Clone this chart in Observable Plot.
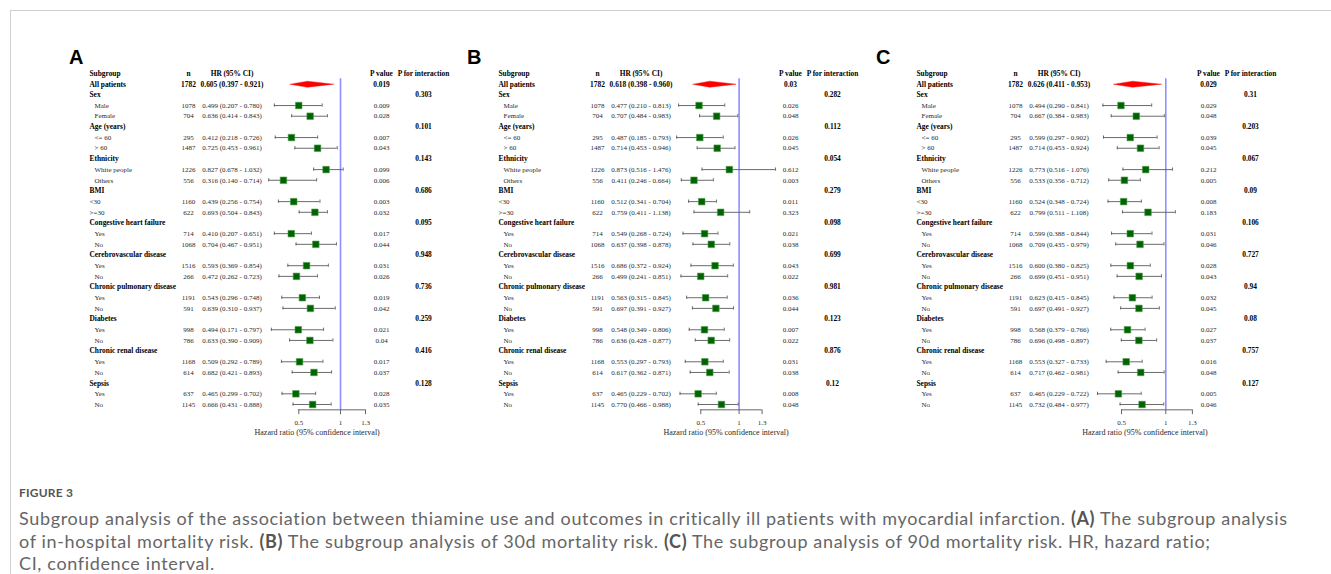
<!DOCTYPE html>
<html>
<head>
<meta charset="utf-8">
<script src="https://cdn.jsdelivr.net/npm/d3@7"></script>
<script src="https://cdn.jsdelivr.net/npm/@observablehq/plot@0.6"></script>
<style>
  html, body { margin: 0; padding: 0; background: #fff; }
  body { width: 1331px; height: 574px; position: relative; overflow: hidden; }
  #frame { position: absolute; left: 10px; top: 10px; width: 1340px; height: 600px;
           border-top: 1px solid #d0d0d0; border-left: 1px solid #d0d0d0; }
  .plabel { position: absolute; font-family: "Liberation Sans", Arial, sans-serif; font-weight: bold;
            font-size: 20px; line-height: 20px; color: #000; }
  #fig { position: absolute; left: 19px; top: 486px; font-family: "Lato", sans-serif; font-size: 12px;
         line-height: 14px; font-weight: 700; letter-spacing: 0.2px; color: #555; }
  #cap { position: absolute; left: 19px; top: 507px; font-family: "Lato", sans-serif; color: #666;
         font-weight: 400; font-size: 18px; line-height: 22.5px; white-space: nowrap; }
  #cap span.l { display: block; height: 22.5px; }
  #cap b { color: #555; font-weight: 700; }
</style>
</head>
<body>
<div id="frame"></div>
<div id="fig">FIGURE 3</div>
<div id="cap">
  <span class="l" id="cap1">Subgroup analysis of the association between thiamine use and outcomes in critically ill patients with myocardial infarction. <b>(A)</b> The subgroup analysis</span>
  <span class="l">of in-hospital mortality risk. <b>(B)</b> The subgroup analysis of 30d mortality risk. <b>(C)</b> The subgroup analysis of 90d mortality risk. HR, hazard ratio;</span>
  <span class="l">CI, confidence interval.</span>
</div>
<script>
// ---------------- DATA ----------------
const groupNames = ["Sex", "Age (years)", "Ethnicity", "BMI", "Congestive heart failure",
  "Cerebrovascular disease", "Chronic pulmonary disease", "Diabetes", "Chronic renal disease", "Sepsis"];
const levelNames = ["Male", "Female", "<= 60", "> 60", "White people", "Others", "<30", ">=30",
  "Yes", "No", "Yes", "No", "Yes", "No", "Yes", "No", "Yes", "No", "Yes", "No"];
const levelN = [1078, 704, 295, 1487, 1226, 556, 1160, 622, 714, 1068, 1516, 266, 1191, 591, 998, 786, 1168, 614, 637, 1145];
const totalN = 1782;
const unindentedGroups = ["BMI"];
const headers = ["Subgroup", "n", "HR (95% CI)", "P value", "P for interaction"];
const xTicks = [0.5, 1, 1.3];
const axisTitle = "Hazard ratio (95% confidence interval)";
const panelLetters = ["A", "B", "C"];

// Panel A: in-hospital mortality (first entry = All patients)
const hrA = [0.605, 0.499, 0.636, 0.412, 0.725, 0.827, 0.316, 0.439, 0.693, 0.410, 0.704, 0.593, 0.472, 0.543, 0.639, 0.494, 0.633, 0.509, 0.682, 0.465, 0.666];
const loA = [0.397, 0.207, 0.414, 0.218, 0.453, 0.678, 0.140, 0.256, 0.504, 0.207, 0.467, 0.369, 0.262, 0.296, 0.310, 0.171, 0.390, 0.292, 0.421, 0.299, 0.431];
const hiA = [0.921, 0.780, 0.843, 0.726, 0.961, 1.032, 0.714, 0.754, 0.843, 0.651, 0.951, 0.854, 0.723, 0.748, 0.937, 0.797, 0.909, 0.789, 0.893, 0.702, 0.888];
const pA = [0.019, 0.009, 0.028, 0.007, 0.043, 0.099, 0.006, 0.003, 0.032, 0.017, 0.044, 0.031, 0.026, 0.019, 0.042, 0.021, 0.04, 0.017, 0.037, 0.028, 0.035];
const pIntA = [0.303, 0.101, 0.143, 0.686, 0.095, 0.948, 0.736, 0.259, 0.416, 0.128];

// Panel B: 30d mortality
const hrB = [0.618, 0.477, 0.707, 0.487, 0.714, 0.873, 0.411, 0.512, 0.759, 0.549, 0.637, 0.686, 0.499, 0.563, 0.697, 0.548, 0.636, 0.553, 0.617, 0.465, 0.770];
const loB = [0.398, 0.210, 0.484, 0.185, 0.453, 0.516, 0.246, 0.341, 0.411, 0.268, 0.398, 0.372, 0.241, 0.315, 0.391, 0.349, 0.428, 0.297, 0.362, 0.229, 0.466];
const hiB = [0.960, 0.813, 0.983, 0.793, 0.946, 1.476, 0.664, 0.704, 1.138, 0.724, 0.878, 0.924, 0.851, 0.845, 0.927, 0.806, 0.877, 0.793, 0.871, 0.702, 0.988];
const pB = [0.03, 0.026, 0.048, 0.026, 0.045, 0.612, 0.003, 0.011, 0.323, 0.021, 0.038, 0.043, 0.022, 0.036, 0.044, 0.007, 0.022, 0.031, 0.038, 0.008, 0.048];
const pIntB = [0.282, 0.112, 0.054, 0.279, 0.098, 0.699, 0.981, 0.123, 0.876, 0.12];

// Panel C: 90d mortality
const hrC = [0.626, 0.494, 0.667, 0.599, 0.714, 0.773, 0.533, 0.524, 0.799, 0.599, 0.709, 0.600, 0.699, 0.623, 0.697, 0.568, 0.696, 0.553, 0.717, 0.465, 0.732];
const loC = [0.411, 0.290, 0.384, 0.297, 0.453, 0.516, 0.356, 0.348, 0.511, 0.388, 0.435, 0.380, 0.451, 0.415, 0.491, 0.379, 0.498, 0.327, 0.462, 0.229, 0.484];
const hiC = [0.953, 0.841, 0.983, 0.902, 0.924, 1.076, 0.712, 0.724, 1.108, 0.844, 0.979, 0.825, 0.951, 0.845, 0.927, 0.766, 0.897, 0.733, 0.981, 0.722, 0.977];
const pC = [0.029, 0.029, 0.048, 0.039, 0.045, 0.212, 0.005, 0.008, 0.183, 0.031, 0.046, 0.028, 0.043, 0.032, 0.045, 0.027, 0.037, 0.016, 0.048, 0.005, 0.046];
const pIntC = [0.31, 0.203, 0.067, 0.09, 0.106, 0.727, 0.94, 0.08, 0.757, 0.127];

// ---------------- LAYOUT (styles, not data) ----------------
const panelLayout = [
  {left: 60,  letterLeft: 69,  xRange: [238.3, 280.0]},
  {left: 469, letterLeft: 467, xRange: [231.3, 269.6]},
  {left: 887, letterLeft: 876, xRange: [234.0, 278.3]}
];
const col = {label: 29, indent: 34, n: 128, hr: 171.5, p: 321, pint: 363};
const FONT = "Liberation Serif";
const regSize = 7, boldSize = 7.4;
const regColor = "#2a2a2a";

function buildRows(hr, lo, hi, p, pInt) {
  const rows = [];
  rows.push({i: 0, label: "All patients", kind: "all", n: totalN, hr: hr[0], lo: lo[0], hi: hi[0], p: p[0]});
  let i = 1;
  groupNames.forEach((g, gi) => {
    rows.push({i: i++, label: g, kind: "group", pint: pInt[gi]});
    for (let k = 0; k < 2; k++) {
      const idx = gi * 2 + k;
      rows.push({i: i++, label: levelNames[idx], kind: "level", indent: !unindentedGroups.includes(g),
        n: levelN[idx], hr: hr[idx + 1], lo: lo[idx + 1], hi: hi[idx + 1], p: p[idx + 1]});
    }
  });
  return rows;
}
const fmtHR = d => `${d.hr.toFixed(3)} (${d.lo.toFixed(3)} - ${d.hi.toFixed(3)})`;

const datasets = [
  buildRows(hrA, loA, hiA, pA, pIntA),
  buildRows(hrB, loB, hiB, pB, pIntB),
  buildRows(hrC, loC, hiC, pC, pIntC)
];

datasets.forEach((rows, pi) => {
  const L = panelLayout[pi];
  const lastRow = rows.length - 1;
  const axisRow = lastRow + 0.5;
  const allRow = rows.filter(r => r.kind === "all");
  const levels = rows.filter(r => r.kind === "level");
  const groups = rows.filter(r => r.kind === "group");
  const xmin = d3.min(rows, r => r.lo);
  const xmax = Math.max(d3.max(rows, r => r.hi), d3.max(xTicks));
  const a = allRow[0];
  const diamond = [
    {x: a.lo, y: a.i}, {x: a.hr, y: a.i - 0.28}, {x: a.hi, y: a.i}, {x: a.hr, y: a.i + 0.28}
  ];
  const txt = (data, opts) => Plot.text(data, {frameAnchor: "left", y: "i", fontFamily: FONT,
    fontSize: regSize, fill: regColor, ...opts});
  const bold = {fontWeight: "bold", fontSize: boldSize, fill: "#000"};
  const headerCols = [
    {dx: col.label, anchor: "start"}, {dx: col.n, anchor: "middle"}, {dx: col.hr, anchor: "middle"},
    {dx: col.p, anchor: "middle"}, {dx: col.pint, anchor: "middle"}
  ];
  const marks = [];
  headers.forEach((h, hi) => {
    marks.push(Plot.text([h], {frameAnchor: "left", y: -1, text: d => d, dx: headerCols[hi].dx,
      textAnchor: headerCols[hi].anchor, fontFamily: FONT, ...bold}));
  });
  // labels
  marks.push(txt(rows.filter(r => r.kind !== "level"), {text: "label", dx: col.label, textAnchor: "start", ...bold}));
  marks.push(txt(levels.filter(r => r.indent), {text: "label", dx: col.indent, textAnchor: "start"}));
  marks.push(txt(levels.filter(r => !r.indent), {text: "label", dx: col.label, textAnchor: "start"}));
  // n
  marks.push(txt(allRow, {text: d => String(d.n), dx: col.n, textAnchor: "middle", ...bold}));
  marks.push(txt(levels, {text: d => String(d.n), dx: col.n, textAnchor: "middle"}));
  // HR (95% CI)
  marks.push(txt(allRow, {text: fmtHR, dx: col.hr, textAnchor: "middle", ...bold}));
  marks.push(txt(levels, {text: fmtHR, dx: col.hr, textAnchor: "middle"}));
  // P value
  marks.push(txt(allRow, {text: d => String(d.p), dx: col.p, textAnchor: "middle", ...bold}));
  marks.push(txt(levels, {text: d => String(d.p), dx: col.p, textAnchor: "middle"}));
  // P for interaction
  marks.push(txt(groups, {text: d => String(d.pint), dx: col.pint, textAnchor: "middle", ...bold}));
  // reference line at HR = 1
  marks.push(Plot.ruleX([1], {y1: -0.5, y2: axisRow, stroke: "#8f8fff", strokeWidth: 1.6}));
  // CI bars and caps
  marks.push(Plot.ruleY(levels, {y: "i", x1: "lo", x2: "hi", stroke: "#5a5a5a", strokeWidth: 0.9}));
  marks.push(Plot.ruleX(levels, {x: "lo", y1: d => d.i - 0.15, y2: d => d.i + 0.15, stroke: "#5a5a5a", strokeWidth: 0.9}));
  marks.push(Plot.ruleX(levels, {x: "hi", y1: d => d.i - 0.15, y2: d => d.i + 0.15, stroke: "#5a5a5a", strokeWidth: 0.9}));
  // point estimates
  marks.push(Plot.dot(levels, {x: "hr", y: "i", symbol: "square", r: 3.7, fill: "#006400", stroke: "#4f9d4f", strokeWidth: 0.6}));
  // overall diamond
  marks.push(Plot.line(diamond, {x: "x", y: "y", curve: "linear-closed", fill: "#ff0000", stroke: "#ff0000", strokeWidth: 0.4}));
  // x axis
  marks.push(Plot.ruleY([axisRow], {x1: d3.min(xTicks), x2: d3.max(xTicks), stroke: "#555", strokeWidth: 0.9}));
  marks.push(Plot.ruleX(xTicks, {x: d => d, y1: axisRow, y2: axisRow + 0.45, stroke: "#555", strokeWidth: 0.9}));
  marks.push(Plot.text(xTicks, {x: d => d, y: axisRow, dy: 12.7, text: d => String(d), fontFamily: FONT, fontSize: regSize, fill: regColor}));
  marks.push(Plot.text([axisTitle], {x: (xmin + xmax) / 2, y: axisRow, dy: 22.7, text: d => d, fontFamily: FONT, fontSize: 8, fill: regColor}));

  const svg = Plot.plot({
    width: 420, height: 380,
    marginTop: 0, marginRight: 0, marginBottom: 0, marginLeft: 0,
    x: {type: "linear", domain: [0.5, 1], range: L.xRange, axis: null},
    y: {type: "linear", domain: [-1, lastRow], range: [13, 344], axis: null},
    style: {fontFamily: FONT, background: "transparent", overflow: "visible"},
    marks
  });
  svg.style.position = "absolute";
  svg.style.left = L.left + "px";
  svg.style.top = "60px";
  document.body.appendChild(svg);

  const lab = document.createElement("div");
  lab.className = "plabel";
  lab.textContent = panelLetters[pi];
  lab.style.left = L.letterLeft + "px";
  lab.style.top = "47px";
  document.body.appendChild(lab);
});

// stretch caption line spacing so the first line spans the reference width
const cap = document.getElementById("cap");
const line1 = document.getElementById("cap1");
line1.style.display = "inline";
const w1 = line1.getBoundingClientRect().width;
const nChars = line1.textContent.length;
line1.style.display = "block";
cap.style.letterSpacing = Math.max(0, (1270 - w1) / nChars).toFixed(3) + "px";
</script>
</body>
</html>
